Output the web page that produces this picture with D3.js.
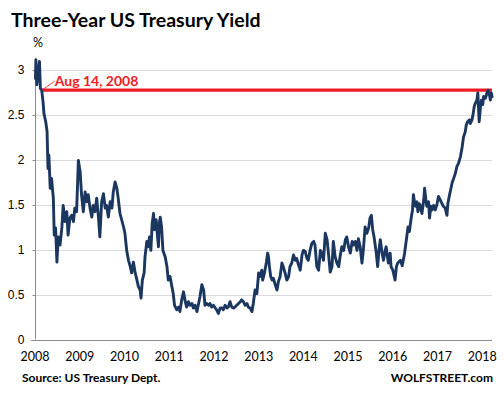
<!DOCTYPE html>
<html>
<head>
<meta charset="utf-8">
<script src="https://cdn.jsdelivr.net/npm/d3@7"></script>
<style>
  body{margin:0;background:#fff;}
  svg{display:block;font-family:Lato,"Open Sans",sans-serif;}
</style>
</head>
<body>
<svg></svg>
<script>
// readings from the chart (position in years, yield in %)
var yearPos=[
  2008.01,2008.02,2008.04,2008.07,2008.10,2008.12,2008.15,2008.18,2008.20,2008.24,
  2008.27,2008.29,2008.31,2008.34,2008.37,2008.41,2008.43,2008.46,2008.49,2008.52,
  2008.56,2008.60,2008.63,2008.67,2008.71,2008.74,2008.78,2008.82,2008.86,2008.89,
  2008.93,2008.97,2009.01,2009.04,2009.08,2009.12,2009.16,2009.19,2009.23,2009.27,
  2009.30,2009.34,2009.38,2009.42,2009.45,2009.49,2009.53,2009.57,2009.60,2009.64,
  2009.68,2009.72,2009.75,2009.79,2009.83,2009.86,2009.90,2009.98,2010.01,2010.05,
  2010.09,2010.13,2010.16,2010.20,2010.24,2010.28,2010.31,2010.35,2010.37,2010.40,
  2010.44,2010.46,2010.50,2010.53,2010.56,2010.59,2010.62,2010.65,2010.67,2010.71,
  2010.74,2010.76,2010.78,2010.80,2010.83,2010.86,2010.91,2010.95,2010.98,2011.02,
  2011.06,2011.09,2011.12,2011.17,2011.21,2011.24,2011.28,2011.32,2011.36,2011.39,
  2011.43,2011.47,2011.51,2011.54,2011.58,2011.62,2011.65,2011.69,2011.73,2011.77,
  2011.80,2011.84,2011.88,2011.91,2011.95,2011.99,2012.03,2012.06,2012.10,2012.14,
  2012.18,2012.21,2012.25,2012.29,2012.32,2012.36,2012.40,2012.44,2012.47,2012.51,
  2012.55,2012.59,2012.62,2012.66,2012.70,2012.74,2012.77,2012.81,2012.85,2012.88,
  2012.92,2012.96,2013.00,2013.03,2013.07,2013.09,2013.13,2013.17,2013.20,2013.22,
  2013.24,2013.27,2013.30,2013.33,2013.37,2013.41,2013.44,2013.48,2013.52,2013.55,
  2013.59,2013.63,2013.67,2013.70,2013.74,2013.78,2013.82,2013.85,2013.89,2013.93,
  2013.97,2014.00,2014.04,2014.08,2014.11,2014.15,2014.19,2014.23,2014.26,2014.30,
  2014.34,2014.38,2014.41,2014.45,2014.49,2014.53,2014.56,2014.60,2014.64,2014.67,
  2014.71,2014.75,2014.79,2014.82,2014.86,2014.90,2014.94,2014.97,2015.01,2015.05,
  2015.09,2015.12,2015.16,2015.20,2015.23,2015.27,2015.31,2015.34,2015.38,2015.42,
  2015.46,2015.49,2015.52,2015.55,2015.58,2015.63,2015.66,2015.69,2015.72,2015.76,
  2015.79,2015.83,2015.85,2015.88,2015.90,2015.94,2015.96,2016.00,2016.05,2016.08,
  2016.11,2016.17,2016.21,2016.26,2016.30,2016.34,2016.37,2016.41,2016.44,2016.46,
  2016.49,2016.51,2016.54,2016.56,2016.59,2016.61,2016.65,2016.69,2016.71,2016.74,
  2016.76,2016.80,2016.82,2016.85,2016.88,2016.91,2016.95,2016.99,2017.02,2017.06,
  2017.10,2017.13,2017.17,2017.21,2017.23,2017.26,2017.30,2017.33,2017.36,2017.40,
  2017.43,2017.47,2017.51,2017.55,2017.58,2017.62,2017.64,2017.67,2017.71,2017.73,
  2017.77,2017.79,2017.82,2017.84,2017.88,2017.90,2017.93,2017.96,2017.98,2018.01,
  2018.03,2018.07,2018.11,2018.13,2018.16,2018.18,2018.20,2018.22
];
var yieldPct=[
  2.90,3.11,2.83,2.94,3.09,2.79,2.77,2.64,2.51,2.42,
  2.31,1.90,2.05,1.68,1.79,1.57,1.16,1.24,0.86,1.14,
  1.05,1.24,1.49,1.31,1.42,1.16,1.35,1.38,1.31,1.46,
  1.42,1.99,1.86,1.61,1.42,1.64,1.53,1.61,1.46,1.36,
  1.49,1.42,1.57,1.35,1.14,1.53,1.62,1.46,1.49,1.36,
  1.53,1.46,1.64,1.75,1.68,1.57,1.40,1.25,1.18,0.99,
  0.88,0.81,0.74,0.86,0.74,0.66,0.59,0.55,0.46,0.66,
  0.74,0.92,1.09,1.03,1.14,0.99,1.29,1.40,1.22,1.33,
  1.14,1.03,1.29,1.36,1.25,0.99,0.92,0.81,0.66,0.70,
  0.59,0.51,0.38,0.33,0.36,0.31,0.44,0.53,0.42,0.36,
  0.42,0.38,0.40,0.35,0.38,0.31,0.38,0.48,0.61,0.55,
  0.38,0.40,0.38,0.40,0.36,0.38,0.35,0.33,0.29,0.35,
  0.35,0.33,0.38,0.35,0.36,0.42,0.36,0.35,0.36,0.38,
  0.40,0.42,0.44,0.42,0.38,0.40,0.36,0.35,0.31,0.40,
  0.55,0.51,0.74,0.70,0.77,0.66,0.74,0.85,0.96,0.92,
  0.81,0.70,0.66,0.68,0.61,0.55,0.64,0.70,0.85,0.81,
  0.74,0.66,0.70,0.81,0.85,0.94,0.88,0.90,0.83,0.77,
  0.94,0.99,0.98,0.90,0.88,0.99,1.07,1.09,1.05,0.81,
  0.77,0.99,0.96,0.88,1.18,1.11,0.96,0.75,0.81,1.09,
  0.92,0.85,0.81,0.92,1.03,0.99,1.11,1.14,1.03,0.96,
  1.09,1.05,1.09,0.99,1.12,1.03,0.85,0.99,1.25,1.18,
  1.24,1.35,1.38,1.22,1.14,0.96,0.81,0.99,1.11,0.96,
  0.88,0.99,1.03,0.92,0.85,0.96,0.81,0.77,0.66,0.81,
  0.85,0.88,0.82,0.95,1.10,1.25,1.20,1.35,1.44,1.61,
  1.51,1.48,1.53,1.42,1.51,1.49,1.40,1.55,1.68,1.55,
  1.48,1.53,1.35,1.48,1.44,1.49,1.44,1.51,1.59,1.55,
  1.51,1.48,1.46,1.38,1.51,1.59,1.68,1.75,1.79,1.85,
  1.92,1.96,2.03,2.14,2.25,2.31,2.38,2.42,2.44,2.40,
  2.44,2.49,2.59,2.62,2.66,2.74,2.42,2.59,2.66,2.61,
  2.70,2.68,2.75,2.77,2.72,2.66,2.74,2.70
];
var yearLabels=["2008","2009","2010","2011","2012","2013","2014","2015","2016","2017","2018"];
var yTicks=[0,0.5,1,1.5,2,2.5,3];
var markYear=2008.15, markYield=2.77, markLabel="Aug 14, 2008";

var W=504,H=397;
var svg=d3.select("svg").attr("width",W).attr("height",H);

var x=d3.scaleLinear().domain([2008,2018]).range([35,482.3]);
var y=d3.scaleLinear().domain([0,3.1]).range([339.5,60.5]);
var xEnd=492;

// gridlines
svg.append("g").selectAll("line").data(yTicks.slice(1)).enter().append("line")
  .attr("x1",x(2008)).attr("x2",xEnd)
  .attr("y1",function(d){return Math.round(y(d))+0.5})
  .attr("y2",function(d){return Math.round(y(d))+0.5})
  .attr("stroke","#d9d9de").attr("stroke-width",1)

// y axis
var yAxis=svg.append("g").attr("transform","translate("+(x(2008)+0.5)+",0.5)")
  .call(d3.axisLeft(y).tickValues(yTicks).tickSize(3).tickPadding(8).tickFormat(function(d){return d}))
yAxis.select(".domain").remove()
yAxis.selectAll(".tick line").attr("stroke","#8c8c8c")
yAxis.selectAll("text").attr("font-size",12).attr("fill","#000")
svg.append("line").attr("x1",x(2008)+0.5).attr("x2",x(2008)+0.5)
  .attr("y1",y(3.1)).attr("y2",y(0)).attr("stroke","#8c8c8c")

// x axis
svg.append("line").attr("x1",31).attr("x2",xEnd)
  .attr("y1",Math.round(y(0))+0.5).attr("y2",Math.round(y(0))+0.5).attr("stroke","#8c8c8c")
svg.append("g").selectAll("text").data(yearLabels).enter().append("text")
  .attr("x",function(d){return x(+d)})
  .attr("y",361)
  .attr("text-anchor","middle").attr("font-size",12.5)
  .text(function(d){return d})

// red reference line
svg.append("line").attr("x1",x(markYear)).attr("x2",xEnd)
  .attr("y1",y(markYield)).attr("y2",y(markYield))
  .attr("stroke","#ed1c24").attr("stroke-width",3.2)

// yield line
var line=d3.line().x(function(d){return x(d[0])}).y(function(d){return y(d[1])});
svg.append("path").datum(d3.zip(yearPos,yieldPct))
  .attr("d",line).attr("fill","none")
  .attr("stroke","#1b365f").attr("stroke-width",2.9)
  .attr("stroke-linejoin","round").attr("stroke-linecap","round")

// annotation
svg.append("line").attr("x1",x(markYear)).attr("y1",y(markYield))
  .attr("x2",x(markYear)+13).attr("y2",y(markYield)-9)
  .attr("stroke","#ed1c24").attr("stroke-width",0.8)
svg.append("text").attr("x",x(markYear)+13).attr("y",85.5)
  .attr("font-size",14).attr("font-weight","bold").attr("fill","#ed1c24")
  .text(markLabel)

// titles
svg.append("text").attr("x",11).attr("y",27)
  .attr("font-size",19.5).attr("font-weight","bold").text("Three-Year US Treasury Yield")
svg.append("text").attr("x",33).attr("y",47).attr("font-size",12.5).text("%")
svg.append("text").attr("x",22).attr("y",382)
  .attr("font-size",12).attr("font-weight","bold").text("Source: US Treasury Dept.")
svg.append("text").attr("x",493).attr("y",382).attr("text-anchor","end")
  .attr("font-size",12).attr("font-weight","bold").text("WOLFSTREET.com")
</script>
</body>
</html>
